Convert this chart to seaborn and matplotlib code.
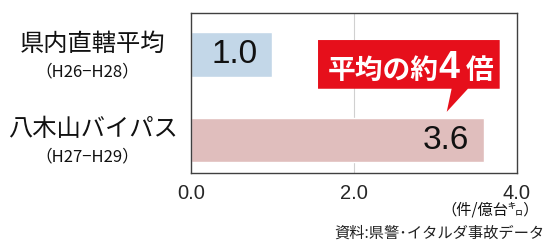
import matplotlib
matplotlib.use("Agg")
import matplotlib.pyplot as plt
import numpy as np
import pandas as pd
import seaborn as sns
from matplotlib.patches import Polygon

# data
labels = ["県内直轄平均", "八木山バイパス"]
periods = ["（H26−H28）", "（H27−H29）"]
rates = [1.0, 3.6]
xticks = [0.0, 2.0, 4.0]
bar_colors = ["#bdd7ee", "#e6b8b7"]

sns.set_style("white")
plt.rcParams["font.family"] = ["Liberation Sans", "Noto Sans CJK JP", "DejaVu Sans"]
jp = ["Noto Sans CJK JP", "DejaVu Sans"]

df = pd.DataFrame({"label": labels, "rate": rates})

fig = plt.figure(figsize=(5.44, 2.43), dpi=100)
ax = fig.add_axes([0.351, 0.288, 0.599, 0.658])

sns.barplot(data=df, x="rate", y="label", hue="label", palette=bar_colors,
            orient="h", width=0.52, legend=False, ax=ax)

ax.set_xlim(0, 4.0)
ax.set_ylim(1.386, -0.485)
ax.set_xticks(xticks)
ax.set_xticklabels([f"{t:.1f}" for t in xticks], fontsize=14.5)
ax.tick_params(axis="x", length=0, pad=8)
ax.set_yticks([])
ax.set_xlabel("")
ax.set_ylabel("")
ax.axvline(2.0, color="#d0d0d0", lw=0.8, zorder=0)
for s in ax.spines.values():
    s.set_color("#404040")
    s.set_linewidth(1.0)

# category labels (two lines, different sizes)
tr = ax.get_yaxis_transform()
for i, (lab, per) in enumerate(zip(labels, periods)):
    ax.text(-0.302, i - 0.13, lab, transform=tr, ha="center", va="center",
            fontsize=17.5, family=jp, color="#111111")
    ax.text(-0.318, i + 0.2, per, transform=tr, ha="center", va="center",
            fontsize=12, family=jp, color="#111111")

# value labels
for i, v in enumerate(rates):
    if v < 2:
        ax.text(v / 2 + 0.04, i, f"{v:.1f}", ha="center", va="center",
                fontsize=24, color="#111111")
    else:
        ax.text(v - 0.19, i, f"{v:.1f}", ha="right", va="center",
                fontsize=24, color="#111111")

# callout
red = "#e60f1b"
callout = Polygon([(1.56, -0.17), (3.79, -0.17), (3.79, 0.40), (3.40, 0.40),
                   (3.14, 0.67), (3.20, 0.40), (1.56, 0.40)],
                  closed=True, facecolor=red, edgecolor="none", zorder=5)
ax.add_patch(callout)
ax.text(2.36, 0.19, "平均の約", ha="center", va="center", fontsize=20,
        fontweight="bold", color="white", family=jp, zorder=6)
ax.text(3.17, 0.16, "4", ha="center", va="center", fontsize=27,
        fontweight="bold", color="white", zorder=6)
ax.text(3.54, 0.19, "倍", ha="center", va="center", fontsize=20,
        fontweight="bold", color="white", family=jp, zorder=6)

# unit and source
fig.text(0.99, 0.135, "（件/億台㌔）", ha="right", va="center", fontsize=11,
         family=jp, color="#111111")
fig.text(1.0, 0.04, "資料:県警･イタルダ事故データ", ha="right", va="center",
         fontsize=11, family=jp, color="#222222")

fig.savefig("out.png", dpi=100)
